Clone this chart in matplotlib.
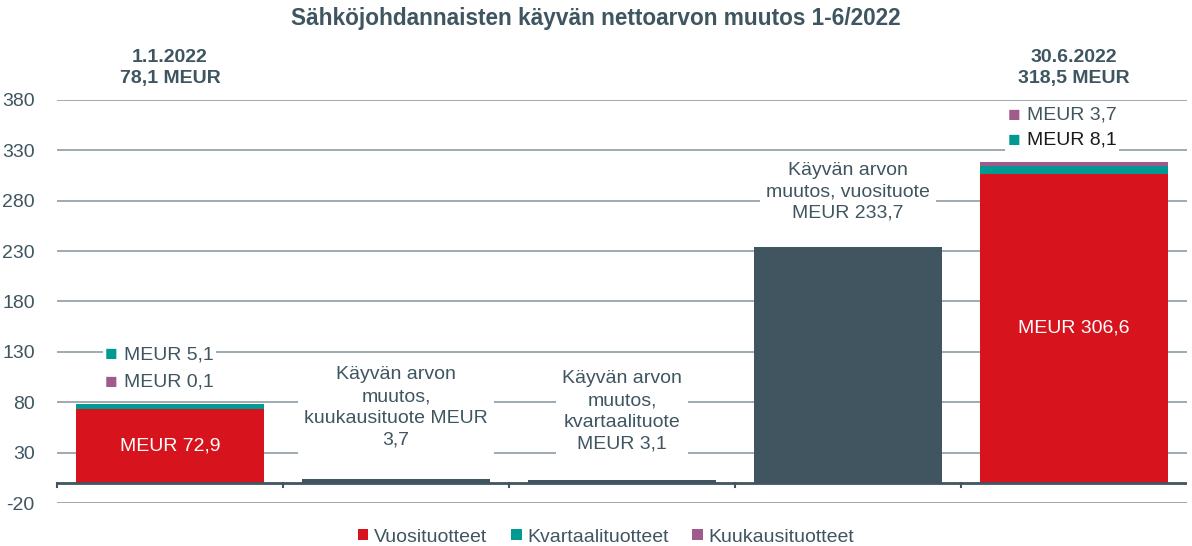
import matplotlib.pyplot as plt
import numpy as np

plt.rcParams['font.family'] = ['Liberation Sans', 'DejaVu Sans']
plt.rcParams['axes.unicode_minus'] = False

# data
categories = ['1.1.2022', 'Kuukausi', 'Kvartaali', 'Vuosi', '30.6.2022']
vuosi = [72.9, 0, 0, 0, 306.6]
kvartaali = [5.1, 0, 0, 0, 8.1]
kuukausi = [0.1, 0, 0, 0, 3.7]
muutos = [0, 3.7, 3.1, 233.7, 0]
totals = ['78,1 MEUR', '318,5 MEUR']
change_labels = ['Käyvän arvon\nmuutos,\nkuukausituote MEUR\n3,7',
                 'Käyvän arvon\nmuutos,\nkvartaalituote\nMEUR 3,1',
                 'Käyvän arvon\nmuutos, vuosituote\nMEUR 233,7']

RED = '#d7141e'
TEAL = '#009a93'
PURPLE = '#a05a8c'
SLATE = '#40555f'
GRID = '#8d9ca5'
TXT = '#3f5560'
FS = 14

fig = plt.figure(figsize=(11.92, 5.46), dpi=100)
ax = fig.add_axes([57/1192, 1-503/546, 1130/1192, 403/546])

x = np.arange(len(categories))
w = 0.83
vuosi = np.array(vuosi)
kvartaali = np.array(kvartaali)
kuukausi = np.array(kuukausi)

ax.bar(x, vuosi, w, color=RED, label='Vuosituotteet', zorder=2)
ax.bar(x, kvartaali, w, bottom=vuosi, color=TEAL, label='Kvartaalituotteet', zorder=2)
ax.bar(x, kuukausi, w, bottom=vuosi+kvartaali, color=PURPLE, label='Kuukausituotteet', zorder=2)
ax.bar(x, muutos, w, color=SLATE, zorder=2)

ax.set_xlim(-0.5, len(categories)-0.5)
ax.set_ylim(-20, 380)
ax.set_yticks(np.arange(-20, 381, 50))
ax.tick_params(axis='y', length=0, labelsize=FS, labelcolor=TXT, pad=16)
ax.set_xticks([])
ax.grid(axis='y', color=GRID, lw=1.2, zorder=0)
for s in ax.spines.values():
    s.set_visible(False)

# zero axis with ticks between categories
ax.axhline(0, color=SLATE, lw=2, zorder=3)
for b in np.arange(-0.5, len(categories)-0.5, 1.0):
    ax.plot([b, b], [0, -4], color=SLATE, lw=1.5, zorder=3, clip_on=False)

box = dict(facecolor='white', edgecolor='none', pad=2)

# labels inside/over stacked bars
ax.text(0, vuosi[0]/2, 'MEUR 72,9', ha='center', va='center', color='white', fontsize=FS, zorder=4)
ax.text(4, vuosi[4]/2, 'MEUR 306,6', ha='center', va='center', color='white', fontsize=FS, zorder=4)

def keyed(xc, yc, color, txt, tcolor=TXT):
    ax.text(xc, yc, '■ ', ha='right', va='center', color=color, fontsize=15,
            bbox=box, zorder=4)
    ax.text(xc, yc, txt, ha='left', va='center', color=tcolor, fontsize=FS,
            bbox=box, zorder=4)

keyed(-0.205, 127, TEAL, 'MEUR 5,1')
keyed(-0.205, 100, PURPLE, 'MEUR 0,1')
keyed(3.79, 365, PURPLE, 'MEUR 3,7')
keyed(3.79, 340, TEAL, 'MEUR 8,1', tcolor='#1a1a1a')

# change labels
for xi, yi, t in zip([1, 2, 3], [75, 71, 289], change_labels):
    ax.text(xi, yi, t, ha='center', va='center', color=TXT, fontsize=FS,
            linespacing=1.35, bbox=dict(facecolor='white', edgecolor='none', pad=4), zorder=4)

# header labels
for xi, d, t in zip([0, 4], [categories[0], categories[4]], totals):
    ax.text(xi, 393, d + '\n' + t, ha='center', va='bottom', color=TXT, fontsize=FS,
            fontweight='bold', linespacing=1.3, clip_on=False)

fig.text(0.5, 1-18/546, 'Sähköjohdannaisten käyvän nettoarvon muutos 1-6/2022',
         ha='center', va='center', color=TXT, fontsize=16.3, fontweight='bold')

ax.legend(loc='center', bbox_to_anchor=(0.486, (503-537)/403), ncol=3, frameon=False,
          fontsize=FS, handlelength=0.55, handleheight=0.55, handletextpad=0.3,
          columnspacing=1.2, labelcolor=TXT)

fig.savefig('out.png', dpi=100)
